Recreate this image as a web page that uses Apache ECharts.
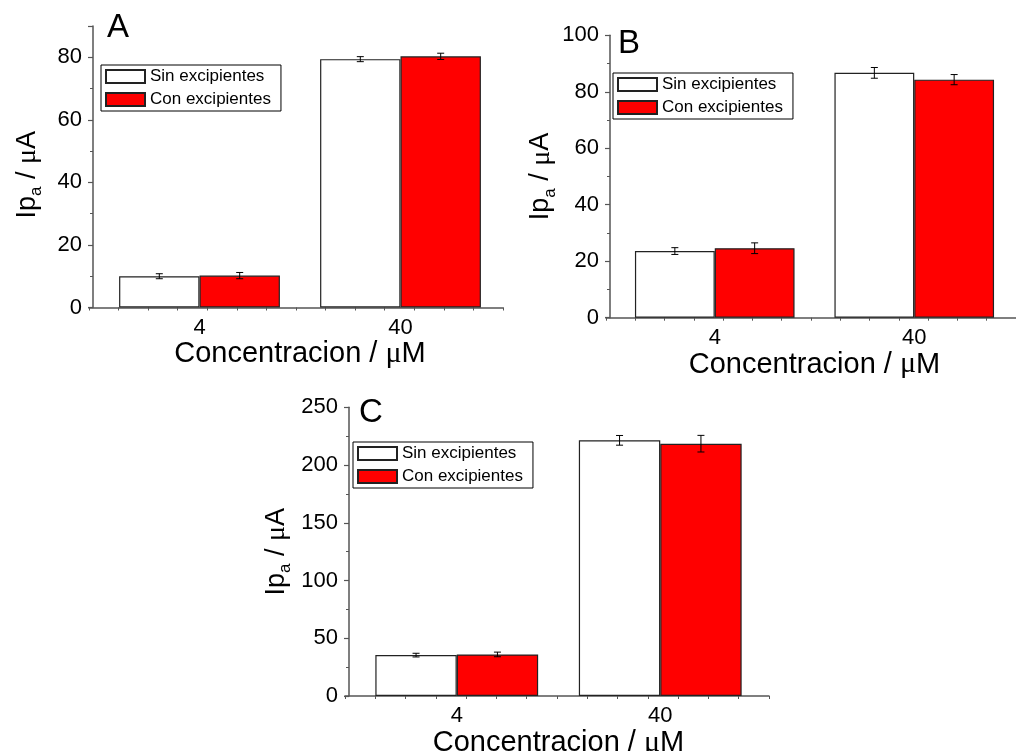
<!DOCTYPE html>
<html>
<head>
<meta charset="utf-8">
<script src="https://cdn.jsdelivr.net/npm/echarts@6/dist/echarts.min.js"></script>
<style>
  html, body { margin: 0; padding: 0; background: #fff; }
  #chart { width: 1016px; height: 751px; }
</style>
</head>
<body>
<div id="chart"></div>
<script>
// Concentration groups and the two sample types
const categories = ['4', '40'];
const seriesNames = ['Sin excipientes', 'Con excipientes'];
const panelLabels = ['A', 'B', 'C'];

// Anodic peak current Ipa (µA), mean and error, panel A
const sinA = [10.0, 79.4];
const conA = [10.2, 80.3];
const errSinA = [0.8, 0.8];
const errConA = [1.0, 1.0];

// Panel B
const sinB = [23.6, 86.7];
const conB = [24.6, 84.3];
const errSinB = [1.2, 1.9];
const errConB = [1.9, 1.8];

// Panel C
const sinC = [35.4, 221.4];
const conC = [36.0, 218.5];
const errSinC = [1.6, 4.2];
const errConC = [2.0, 7.2];

// Value-axis scales
const yMaxes = [90, 100, 250];
const yIntervals = [20, 20, 50];

const FONT = '"Liberation Sans", Arial, sans-serif';
const AXIS_COLOR = '#555';

// Layout of each panel (pixels)
const layouts = [
  { left: 99, top: 26, width: 402, height: 281.5, offset: 6, lineLeft: 89, lineRight: 503,
    legend: [101, 65], label: [107, 11], nameGapX: 29, nameGapY: 48, namePad: 16 },
  { left: 615, top: 35.3, width: 399, height: 282.4, offset: 5, lineLeft: 606, lineRight: 1016,
    legend: [613, 73], label: [618, 27], nameGapX: 27, nameGapY: 48, namePad: 0 },
  { left: 355, top: 407.3, width: 407, height: 288.7, offset: 6, lineLeft: 345, lineRight: 769,
    legend: [353, 442], label: [359, 396], nameGapX: 28, nameGapY: 55, namePad: 0 }
];

const panels = [
  { sin: sinA, con: conA, errSin: errSinA, errCon: errConA },
  { sin: sinB, con: conB, errSin: errSinB, errCon: errConB },
  { sin: sinC, con: conC, errSin: errSinC, errCon: errConC }
];

// Axis-title text styles: normal, subscript, Greek mu
const xNameRich = {
  n: { fontSize: 29, fontFamily: FONT, color: '#000', lineHeight: 29 },
  m: { fontSize: 30, fontFamily: '"Liberation Serif", serif', color: '#000', lineHeight: 29 }
};
const yNameRich = {
  n: { fontSize: 27, fontFamily: FONT, color: '#000', verticalAlign: 'top' },
  s: { fontSize: 17, fontFamily: FONT, color: '#000', lineHeight: 31, verticalAlign: 'bottom' },
  m: { fontSize: 28, fontFamily: '"Liberation Serif", serif', color: '#000', verticalAlign: 'top' }
};

// Error bar drawn at the centre of one bar of a pair (shift = fraction of the band)
function errorBarRender(shift) {
  return function (params, api) {
    const i = api.value(0), v = api.value(1), e = api.value(2);
    const band = api.size([1, 0])[0];
    const x = api.coord([i, v])[0] + shift * band;
    const yTop = api.coord([i, v + e])[1];
    const yBot = api.coord([i, v - e])[1];
    const cap = 3.5;
    const style = { stroke: '#000', lineWidth: 1 };
    return {
      type: 'group',
      children: [
        { type: 'line', shape: { x1: x, y1: yTop, x2: x, y2: yBot }, style },
        { type: 'line', shape: { x1: x - cap, y1: yTop, x2: x + cap, y2: yTop }, style },
        { type: 'line', shape: { x1: x - cap, y1: yBot, x2: x + cap, y2: yBot }, style }
      ]
    };
  };
}

const grid = [], xAxis = [], yAxis = [], series = [], legend = [], title = [];

panels.forEach((p, k) => {
  const L = layouts[k];
  const gMain = 2 * k, gLine = 2 * k + 1;

  grid.push({ left: L.left, top: L.top, width: L.width, height: L.height, outerBoundsMode: 'none' });
  grid.push({ left: L.lineLeft, top: L.top, width: L.lineRight - L.lineLeft, height: L.height, outerBoundsMode: 'none' });

  xAxis.push({
    type: 'category', gridIndex: gMain, data: categories,
    axisLine: { show: false }, axisTick: { show: false },
    axisLabel: { fontSize: 22, fontFamily: FONT, color: '#000', margin: 9 },
    name: '{n|Concentracion / }{m|μ}{n|M}', nameLocation: 'middle', nameGap: L.nameGapX,
    nameTextStyle: { rich: xNameRich }
  });
  // baseline with small ticks
  xAxis.push({
    type: 'value', gridIndex: gLine, min: 0, max: 14, interval: 1,
    axisLine: { show: true, lineStyle: { color: AXIS_COLOR, width: 1.5 } },
    axisTick: { show: true, length: 3, lineStyle: { color: AXIS_COLOR, width: 1 } },
    axisLabel: { show: false }, splitLine: { show: false }
  });

  yAxis.push({
    type: 'value', gridIndex: gMain, min: 0, max: yMaxes[k], interval: yIntervals[k],
    offset: L.offset,
    axisLine: { show: true, lineStyle: { color: AXIS_COLOR, width: 1.5 } },
    axisTick: { show: true, length: 5, lineStyle: { color: AXIS_COLOR, width: 1.2 } },
    minorTick: { show: true, splitNumber: 2, length: 3, lineStyle: { color: AXIS_COLOR, width: 1 } },
    axisLabel: { fontSize: 22, fontFamily: FONT, color: '#000', margin: 11,
      showMaxLabel: yMaxes[k] % yIntervals[k] === 0 },
    splitLine: { show: false },
    name: '{n|Ip}{s|a}{n| / }{m|μ}{n|A}', nameLocation: 'middle', nameRotate: 90, nameGap: L.nameGapY,
    nameTextStyle: { rich: yNameRich, padding: [0, L.namePad, 0, 0] }
  });
  yAxis.push({ type: 'value', gridIndex: gLine, show: false, min: 0, max: 1 });

  const barStyleSin = { color: '#ffffff', borderColor: '#222', borderWidth: 1.2 };
  const barStyleCon = { color: '#ff0000', borderColor: '#222', borderWidth: 1.2 };

  series.push({
    type: 'bar', name: seriesNames[0], xAxisIndex: gMain, yAxisIndex: gMain,
    data: p.sin, barWidth: '40%', barGap: '0%', itemStyle: barStyleSin
  });
  series.push({
    type: 'bar', name: seriesNames[1], xAxisIndex: gMain, yAxisIndex: gMain,
    data: p.con, barWidth: '40%', barGap: '0%', itemStyle: barStyleCon
  });
  series.push({
    type: 'custom', name: 'err-sin-' + k, xAxisIndex: gMain, yAxisIndex: gMain, z: 5,
    renderItem: errorBarRender(-0.2), encode: { x: 0, y: 1 },
    data: categories.map((c, i) => [i, p.sin[i], p.errSin[i]])
  });
  series.push({
    type: 'custom', name: 'err-con-' + k, xAxisIndex: gMain, yAxisIndex: gMain, z: 5,
    renderItem: errorBarRender(0.2), encode: { x: 0, y: 1 },
    data: categories.map((c, i) => [i, p.con[i], p.errCon[i]])
  });

  legend.push({
    data: seriesNames, orient: 'vertical', left: L.legend[0], top: L.legend[1],
    icon: 'rect', itemWidth: 39, itemHeight: 13, itemGap: 6,
    padding: [3, 10, 3, 4], borderColor: '#000', borderWidth: 1,
    textStyle: { fontSize: 17, fontFamily: FONT, color: '#000', lineHeight: 14 }
  });

  title.push({
    text: panelLabels[k], left: L.label[0], top: L.label[1], padding: 0,
    textStyle: { fontSize: 33, fontWeight: 'normal', fontFamily: FONT, color: '#000' }
  });
});

const chart = echarts.init(document.getElementById('chart'), null, { renderer: 'canvas' });
chart.setOption({
  animation: false,
  backgroundColor: '#fff',
  title, legend, grid, xAxis, yAxis, series
});
</script>
</body>
</html>
